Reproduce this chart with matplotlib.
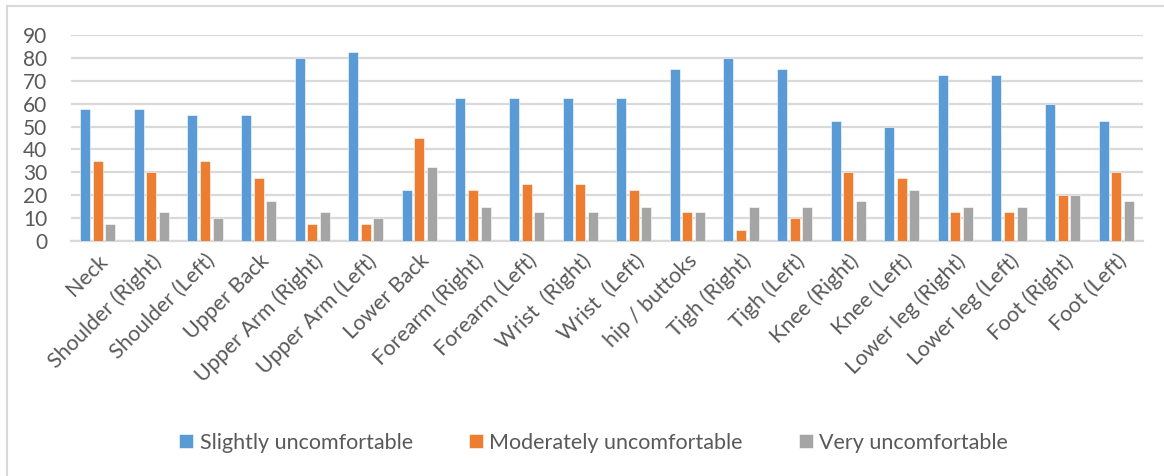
import numpy as np
import matplotlib
matplotlib.use("Agg")
import matplotlib.pyplot as plt
from matplotlib.lines import Line2D

plt.rcParams['font.family'] = ['Lato', 'DejaVu Sans']

regions = ["Neck", "Shoulder (Right)", "Shoulder (Left)", "Upper Back",
           "Upper Arm (Right)", "Upper Arm (Left)", "Lower Back",
           "Forearm (Right)", "Forearm (Left)", "Wrist  (Right)", "Wrist  (Left)",
           "hip / buttoks", "Tigh (Right)", "Tigh (Left)", "Knee (Right)",
           "Knee (Left)", "Lower leg (Right)", "Lower leg (Left)",
           "Foot (Right)", "Foot (Left)"]

slightly = [57.5, 57.5, 55, 55, 80, 82.5, 22.5, 62.5, 62.5, 62.5, 62.5,
            75, 80, 75, 52.5, 50, 72.5, 72.5, 60, 52.5]
moderately = [35, 30, 35, 27.5, 7.5, 7.5, 45, 22.5, 25, 25, 22.5,
              12.5, 5, 10, 30, 27.5, 12.5, 12.5, 20, 30]
very = [7.5, 12.5, 10, 17.5, 12.5, 10, 32.5, 15, 12.5, 12.5, 15,
        12.5, 15, 15, 17.5, 22.5, 15, 15, 20, 17.5]

series = [("Slightly uncomfortable", slightly, "#5B9BD5"),
          ("Moderately uncomfortable", moderately, "#ED7D31"),
          ("Very uncomfortable", very, "#A5A5A5")]

fig = plt.figure(figsize=(11.64, 4.76), dpi=100)
ax = fig.add_axes([71 / 1164, 1 - 241 / 476, (1143 - 71) / 1164, (241 - 35) / 476])

x = np.arange(len(regions))
step = 0.235
width = 0.19
for i, (name, vals, col) in enumerate(series):
    ax.bar(x + (i - 1) * step, vals, width, color=col, label=name,
           edgecolor="white", linewidth=0.4, zorder=3)

ax.set_xlim(-0.5, len(regions) - 0.5)
ax.set_ylim(0, 90)
ax.set_yticks(range(0, 91, 10))
ax.yaxis.grid(True, color="#D9D9D9", linewidth=1.6, zorder=0)
ax.set_axisbelow(True)
for s in ["top", "right", "left"]:
    ax.spines[s].set_visible(False)
ax.spines["bottom"].set_color("#D9D9D9")
ax.spines["bottom"].set_linewidth(1.6)

ax.tick_params(axis="both", length=0, colors="#595959")
ax.tick_params(axis="y", pad=17, labelsize=15)
ax.set_xticks(x)
ax.set_xticklabels(regions, rotation=45, ha="right", rotation_mode="anchor",
                   fontsize=15.5)
ax.tick_params(axis="x", pad=7)

fig.legend(loc="lower center", bbox_to_anchor=(0.51, 0.008), ncol=3, frameon=False,
           fontsize=15.5, handlelength=0.65, handleheight=0.65, handletextpad=0.3,
           columnspacing=2.6, labelcolor="#595959")

# light frame on the left and top edges
fig.add_artist(Line2D([7 / 1164, 7 / 1164], [0, 1 - 6 / 476], color="#D9D9D9",
                      linewidth=1.5, transform=fig.transFigure))
fig.add_artist(Line2D([7 / 1164, 1], [1 - 6 / 476, 1 - 6 / 476], color="#D9D9D9",
                      linewidth=1.5, transform=fig.transFigure))

fig.savefig("out.png", dpi=100)
